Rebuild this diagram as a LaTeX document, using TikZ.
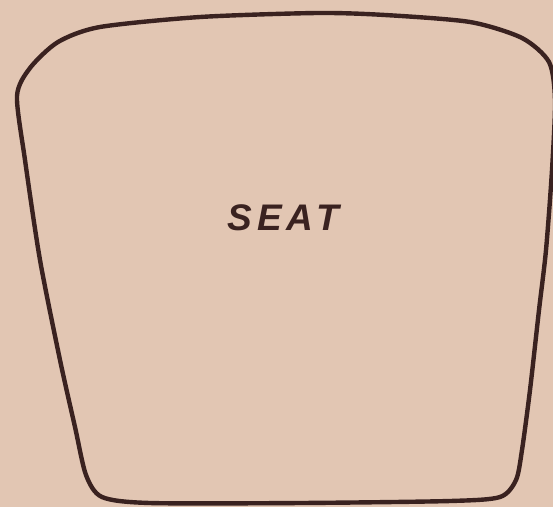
\documentclass[tikz,border=0pt]{standalone}
\usepackage{fontspec}
\setmainfont{Liberation Sans}
\newfontfamily\seatfont[LetterSpace=14]{Liberation Sans}
\definecolor{paper}{HTML}{E2C6B3}
\definecolor{ink}{HTML}{3A2220}
\begin{document}
\begin{tikzpicture}[x=1pt,y=-1pt,
  outline/.style={draw=ink,line width=4.4pt,line join=round},
  label/.style={text=ink,font=\seatfont\bfseries\itshape\fontsize{37}{37}\selectfont,inner sep=0pt}]
\fill[paper] (0,0) rectangle (553,507);
\useasboundingbox (0,0) rectangle (553,507);
\draw[outline] plot[smooth cycle,tension=0.45] coordinates {
 (300,503) (450,501) (500,497) (516,480) (522,450) (530,390) (539,310)
 (546,250) (552,170) (555,100) (549,62) (522,38) (470,22) (385,15)
 (317,13) (200,17) (100,27) (58,42) (30,68) (17,96) (25,160) (40,260)
 (60,360) (75,427) (86,475) (102,497) (150,503)};
\node[label] (seat) at (283,218) {SEAT};
\end{tikzpicture}
\end{document}
